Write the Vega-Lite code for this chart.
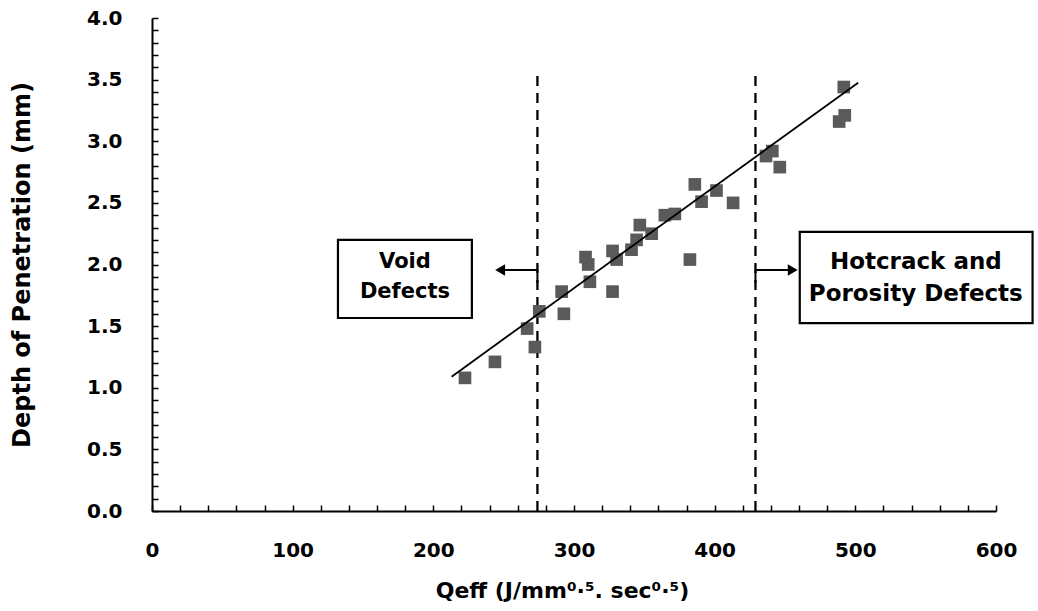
{
  "$schema": "https://vega.github.io/schema/vega-lite/v6.json",
  "width": 844,
  "height": 493,
  "autosize": "none",
  "padding": {"left": 152, "top": 18, "right": 42, "bottom": 100},
  "background": "white",
  "config": {
    "view": {"stroke": null},
    "axis": {
      "domainColor": "black",
      "domainWidth": 2,
      "tickColor": "black",
      "tickWidth": 1.5,
      "tickSize": -6,
      "grid": false,
      "labelOverlap": false,
      "labelBound": false,
      "labelFlush": false,
      "labelFont": "DejaVu Sans",
      "labelFontWeight": "bold",
      "labelFontSize": 20,
      "labelColor": "black",
      "titleFont": "DejaVu Sans",
      "titleFontWeight": "bold",
      "titleFontSize": 22,
      "titleColor": "black"
    }
  },
  "datasets": {
    "pts": [
      {"q": 222.5, "d": 1.08},
      {"q": 243.8, "d": 1.21},
      {"q": 266.7, "d": 1.48},
      {"q": 272.2, "d": 1.33},
      {"q": 275.3, "d": 1.62},
      {"q": 291.2, "d": 1.78},
      {"q": 292.8, "d": 1.60},
      {"q": 308.2, "d": 2.06},
      {"q": 310.1, "d": 2.00},
      {"q": 311.3, "d": 1.86},
      {"q": 327.4, "d": 1.78},
      {"q": 327.4, "d": 2.11},
      {"q": 330.3, "d": 2.04},
      {"q": 340.9, "d": 2.12},
      {"q": 344.5, "d": 2.20},
      {"q": 346.8, "d": 2.32},
      {"q": 355.2, "d": 2.25},
      {"q": 364.6, "d": 2.40},
      {"q": 371.7, "d": 2.41},
      {"q": 382.4, "d": 2.04},
      {"q": 385.9, "d": 2.65},
      {"q": 390.7, "d": 2.51},
      {"q": 401.3, "d": 2.60},
      {"q": 413.1, "d": 2.50},
      {"q": 436.5, "d": 2.88},
      {"q": 441.0, "d": 2.92},
      {"q": 446.3, "d": 2.79},
      {"q": 488.5, "d": 3.16},
      {"q": 492.5, "d": 3.21},
      {"q": 491.8, "d": 3.44}
    ],
    "fit": [
      {"q": 213, "d": 1.09},
      {"q": 502, "d": 3.475}
    ],
    "limits": [
      {"q": 274, "d": 0, "d2": 3.54},
      {"q": 429, "d": 0, "d2": 3.54}
    ],
    "segs": [
      {"q": 274, "q2": 250, "d": 1.955, "d2": 1.955},
      {"q": 274, "q2": 274, "d": 1.955, "d2": 1.85},
      {"q": 429, "q2": 453, "d": 1.955, "d2": 1.955},
      {"q": 429, "q2": 429, "d": 1.955, "d2": 1.85}
    ],
    "leftHead": [{"q": 247.5, "d": 1.955}],
    "rightHead": [{"q": 455.5, "d": 1.955}],
    "boxes": [
      {"q": 132.2, "q2": 227.4, "d": 2.199, "d2": 1.566},
      {"q": 460.5, "q2": 626, "d": 2.264, "d2": 1.525}
    ],
    "voidLabels": [
      {"q": 179.8, "d": 2.02, "t": "Void"},
      {"q": 179.8, "d": 1.775, "t": "Defects"}
    ],
    "hotLabels": [
      {"q": 543, "d": 2.02, "t": "Hotcrack and"},
      {"q": 543, "d": 1.76, "t": "Porosity Defects"}
    ]
  },
  "layer": [
    {
      "data": {"name": "limits"},
      "mark": {"type": "rule", "color": "black", "strokeWidth": 2.3, "strokeDash": [10, 7]},
      "encoding": {
        "x": {
          "field": "q", "type": "quantitative",
          "scale": {"domain": [0, 600], "nice": false},
          "axis": {
            "title": "Qeff (J/mm⁰·⁵. sec⁰·⁵)",
            "titleX": 410,
            "tickCount": 500,
            "values": [0,20,40,60,80,100,120,140,160,180,200,220,240,260,280,300,320,340,360,380,400,420,440,460,480,500,520,540,560,580,600],
            "labelExpr": "datum.value % 100 === 0 ? datum.label : ''",
            "labelPadding": 35,
            "titlePadding": 20
          }
        },
        "y": {
          "field": "d", "type": "quantitative",
          "scale": {"domain": [0, 4], "nice": false},
          "axis": {
            "title": "Depth of Penetration (mm)",
            "titleFontSize": 24,
            "tickCount": 500,
            "values": [0,0.1,0.2,0.3,0.4,0.5,0.6,0.7,0.8,0.9,1,1.1,1.2,1.3,1.4,1.5,1.6,1.7,1.8,1.9,2,2.1,2.2,2.3,2.4,2.5,2.6,2.7,2.8,2.9,3,3.1,3.2,3.3,3.4,3.5,3.6,3.7,3.8,3.9,4],
            "labelExpr": "abs(datum.value * 2 - round(datum.value * 2)) < 0.000001 ? format(datum.value, '.1f') : ''",
            "labelPadding": 36,
            "titlePadding": 52
          }
        },
        "y2": {"field": "d2"}
      }
    },
    {
      "data": {"name": "segs"},
      "mark": {"type": "rule", "color": "black", "strokeWidth": 2},
      "encoding": {
        "x": {"field": "q", "type": "quantitative"},
        "x2": {"field": "q2"},
        "y": {"field": "d", "type": "quantitative"},
        "y2": {"field": "d2"}
      }
    },
    {
      "data": {"name": "leftHead"},
      "mark": {"type": "point", "shape": "triangle-left", "filled": true, "color": "black", "size": 130, "opacity": 1},
      "encoding": {
        "x": {"field": "q", "type": "quantitative"},
        "y": {"field": "d", "type": "quantitative"}
      }
    },
    {
      "data": {"name": "rightHead"},
      "mark": {"type": "point", "shape": "triangle-right", "filled": true, "color": "black", "size": 130, "opacity": 1},
      "encoding": {
        "x": {"field": "q", "type": "quantitative"},
        "y": {"field": "d", "type": "quantitative"}
      }
    },
    {
      "data": {"name": "boxes"},
      "mark": {"type": "rect", "fill": "white", "stroke": "black", "strokeWidth": 2.2},
      "encoding": {
        "x": {"field": "q", "type": "quantitative"},
        "x2": {"field": "q2"},
        "y": {"field": "d", "type": "quantitative"},
        "y2": {"field": "d2"}
      }
    },
    {
      "data": {"name": "voidLabels"},
      "mark": {"type": "text", "font": "DejaVu Sans", "fontWeight": "bold", "fontSize": 21, "color": "black", "align": "center", "baseline": "middle"},
      "encoding": {
        "x": {"field": "q", "type": "quantitative"},
        "y": {"field": "d", "type": "quantitative"},
        "text": {"field": "t"}
      }
    },
    {
      "data": {"name": "hotLabels"},
      "mark": {"type": "text", "font": "DejaVu Sans", "fontWeight": "bold", "fontSize": 23, "color": "black", "align": "center", "baseline": "middle"},
      "encoding": {
        "x": {"field": "q", "type": "quantitative"},
        "y": {"field": "d", "type": "quantitative"},
        "text": {"field": "t"}
      }
    },
    {
      "data": {"name": "pts"},
      "mark": {"type": "square", "color": "#5a5a5a", "size": 160, "opacity": 1},
      "encoding": {
        "x": {"field": "q", "type": "quantitative"},
        "y": {"field": "d", "type": "quantitative"}
      }
    },
    {
      "data": {"name": "fit"},
      "mark": {"type": "line", "color": "black", "strokeWidth": 1.8},
      "encoding": {
        "x": {"field": "q", "type": "quantitative"},
        "y": {"field": "d", "type": "quantitative"}
      }
    }
  ]
}
